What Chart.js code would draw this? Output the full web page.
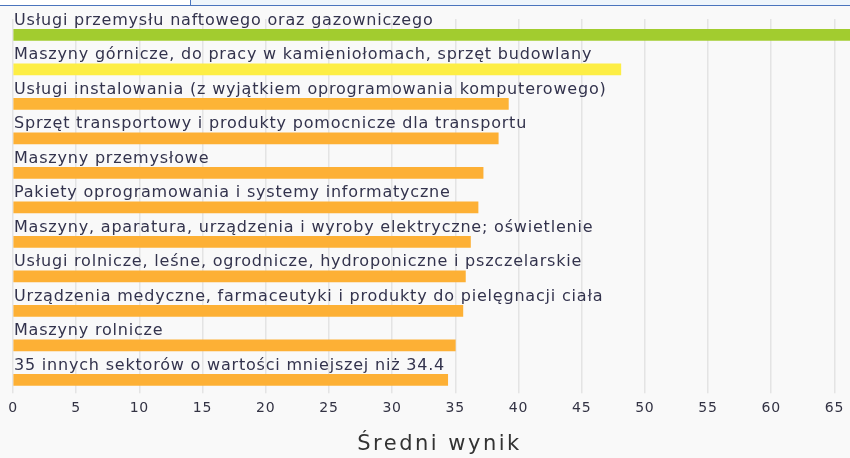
<!DOCTYPE html>
<html>
<head>
<meta charset="utf-8">
<script src="https://cdn.jsdelivr.net/npm/chart.js@4.4.0/dist/chart.umd.min.js"></script>
<style>
  html, body { margin: 0; padding: 0; background: #f9f9f9; overflow: hidden; }
  .top-bar { position: absolute; left: 0; top: 0; width: 850px; height: 5px; background: #eef5fb; border-bottom: 1px solid #4a74bd; }
  .top-tab { position: absolute; left: 0; top: 0; width: 190px; height: 5px; background: #fff; border-right: 1px solid #4a74bd; }
  .chart-box { position: absolute; left: 0; top: 6px; width: 880px; height: 452px; }
</style>
</head>
<body>
<div class="top-bar"></div>
<div class="top-tab"></div>
<div class="chart-box"><canvas id="sectorChart"></canvas></div>
<script>
const sectors = [
  "Usługi przemysłu naftowego oraz gazowniczego",
  "Maszyny górnicze, do pracy w kamieniołomach, sprzęt budowlany",
  "Usługi instalowania (z wyjątkiem oprogramowania komputerowego)",
  "Sprzęt transportowy i produkty pomocnicze dla transportu",
  "Maszyny przemysłowe",
  "Pakiety oprogramowania i systemy informatyczne",
  "Maszyny, aparatura, urządzenia i wyroby elektryczne; oświetlenie",
  "Usługi rolnicze, leśne, ogrodnicze, hydroponiczne i pszczelarskie",
  "Urządzenia medyczne, farmaceutyki i produkty do pielęgnacji ciała",
  "Maszyny rolnicze",
  "35 innych sektorów o wartości mniejszej niż 34.4"
];
const scores = [67.2, 48.1, 39.2, 38.4, 37.2, 36.8, 36.2, 35.8, 35.6, 35.0, 34.4];
const barColors = ["#a2cc2f", "#fdee45", "#fdb436", "#fdb035", "#fdb035", "#fdb035",
  "#fdb035", "#fdb035", "#fdb035", "#fdb035", "#fdb035"];
const axisTitle = "Średni wynik";

const textFont = "'DejaVu Sans', sans-serif";

// a little tracking on all canvas text
const spacing = {
  id: "spacing",
  beforeInit(chart) { chart.ctx.letterSpacing = "0.8px"; },
  beforeDraw(chart) { chart.ctx.letterSpacing = "0.8px"; }
};

// sector names above their bars, axis title under the ticks
const sectorLabels = {
  id: "sectorLabels",
  afterDatasetsDraw(chart) {
    const ctx = chart.ctx;
    const area = chart.chartArea;
    const meta = chart.getDatasetMeta(0);
    ctx.save();
    ctx.font = "16px " + textFont;
    ctx.fillStyle = "#33334d";
    ctx.textBaseline = "alphabetic";
    ctx.textAlign = "left";
    meta.data.forEach((bar, i) => {
      ctx.fillText(sectors[i], area.left + 1, bar.y - 10);
    });
    ctx.font = "21px " + textFont;
    ctx.letterSpacing = "2.5px";
    ctx.fillStyle = "#333333";
    ctx.textAlign = "center";
    ctx.fillText(axisTitle, (area.left + area.right) / 2, area.bottom + 63);
    ctx.restore();
  }
};

const ctx = document.getElementById("sectorChart").getContext("2d");
const chart = new Chart(ctx, {
  type: "bar",
  data: {
    datasets: [{
      data: scores.map((v, i) => ({ x: v, y: i })),
      backgroundColor: barColors,
      barThickness: 11,
      borderWidth: 0
    }]
  },
  options: {
    indexAxis: "y",
    responsive: true,
    maintainAspectRatio: false,
    animation: false,
    layout: { padding: { left: 13, top: 13, right: 14, bottom: 34 } },
    plugins: {
      legend: { display: false },
      tooltip: { enabled: false }
    },
    scales: {
      y: {
        type: "linear",
        reverse: true,
        offset: false,
        min: -0.46,
        max: 10.21,
        display: false
      },
      x: {
        min: 0,
        max: 67.5,
        border: { display: false },
        grid: { color: "#e4e4e4", lineWidth: 1.5, tickLength: 6 },
        ticks: {
          stepSize: 5,
          includeBounds: false,
          padding: 7,
          color: "#333344",
          font: { family: textFont, size: 14 }
        }
      }
    }
  },
  plugins: [spacing, sectorLabels]
});
</script>
</body>
</html>
